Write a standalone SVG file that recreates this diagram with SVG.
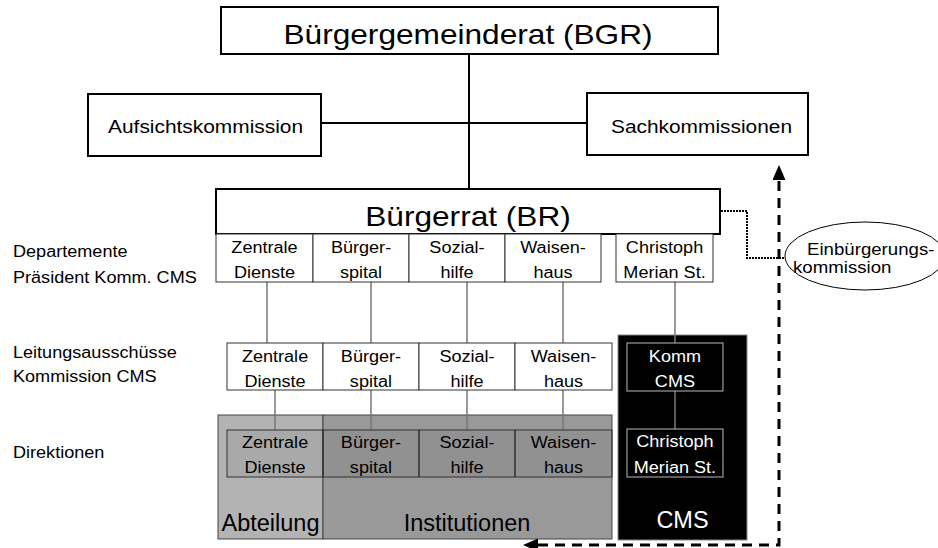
<svg xmlns="http://www.w3.org/2000/svg" width="938" height="548" viewBox="0 0 938 548">
<style>
text { font-family: "Liberation Sans", Arial, sans-serif; fill: #000; }
.big { font-size: 28px; text-anchor: middle; }
.mid { font-size: 18.5px; text-anchor: middle; }
.cell { font-size: 16px; text-anchor: middle; }
.lbl { font-size: 16px; text-anchor: start; }
.area { font-size: 23.5px; text-anchor: middle; }
.w { fill: #fff; }
.box { fill: #fff; stroke: #000; stroke-width: 2; }
.thin { fill: #fff; stroke: #333; stroke-width: 1; }
.gcell { fill: #000; fill-opacity: 0.05; stroke: #333; stroke-width: 1; }
.wcell { fill: none; stroke: #bbb; stroke-width: 1; }
.con { stroke: #000; stroke-width: 2; fill: none; }
.gcon { stroke: #777; stroke-width: 1.5; fill: none; }
</style>
<defs>
<marker id="ah" viewBox="0 0 15 13" markerWidth="15" markerHeight="13" refX="0" refY="6.5" orient="auto-start-reverse" markerUnits="userSpaceOnUse">
<path d="M0,0 L15,6.5 L0,13 z" fill="#000"/>
</marker>
</defs>

<g id="bg-areas">
<rect x="218" y="415" width="105" height="124" fill="#b3b3b3" stroke="#444" stroke-width="1"/>
<rect x="323" y="415" width="289" height="124" fill="#999" stroke="#444" stroke-width="1"/>
<rect x="618" y="335" width="129" height="205" fill="#000" stroke="#888" stroke-width="1"/>
</g>

<g id="connectors">
<line class="con" x1="469" y1="54" x2="469" y2="189"/>
<line class="con" x1="321" y1="123" x2="587" y2="123"/>
<line class="gcon" x1="267" y1="282" x2="267" y2="343"/>
<line class="gcon" x1="371" y1="282" x2="371" y2="343"/>
<line class="gcon" x1="467" y1="282" x2="467" y2="343"/>
<line class="gcon" x1="563" y1="282" x2="563" y2="343"/>
<line class="gcon" x1="675" y1="282" x2="675" y2="343"/>
<line class="gcon" x1="275" y1="390" x2="275" y2="430"/>
<line class="gcon" x1="371" y1="390" x2="371" y2="430"/>
<line class="gcon" x1="467" y1="390" x2="467" y2="430"/>
<line class="gcon" x1="563" y1="390" x2="563" y2="430"/>
<line class="gcon" x1="675" y1="391" x2="675" y2="429"/>
<path d="M721,211 H747 V258 H785" fill="none" stroke="#000" stroke-width="2" stroke-dasharray="2 1"/>
<path d="M538,545 H779 V180" fill="none" stroke="#000" stroke-width="3" stroke-dasharray="10 7" marker-start="url(#ah)" marker-end="url(#ah)"/>
</g>

<g id="bgr">
<rect class="box" x="221" y="7" width="497" height="47"/>
<text class="big" x="414.2" y="44" transform="scale(1.13 1)">Bürgergemeinderat (BGR)</text>
</g>
<g id="aufsicht">
<rect class="box" x="88" y="94" width="233" height="62"/>
<text class="mid" x="181.9" y="133" transform="scale(1.13 1)">Aufsichtskommission</text>
</g>
<g id="sach">
<rect class="box" x="587" y="93" width="221" height="62"/>
<text class="mid" x="620.8" y="133" transform="scale(1.13 1)">Sachkommissionen</text>
</g>
<g id="br">
<rect class="box" x="216" y="189" width="504" height="45"/>
<text class="big" x="414.2" y="226" transform="scale(1.13 1)">Bürgerrat (BR)</text>
</g>

<g id="dep-zd">
<rect class="thin" x="216" y="234" width="97" height="48"/>
<text class="cell" x="234.1" y="252.7" transform="scale(1.13 1)">Zentrale</text>
<text class="cell" x="234.1" y="278.3" transform="scale(1.13 1)">Dienste</text>
</g>
<g id="dep-bs">
<rect class="thin" x="313" y="234" width="96" height="48"/>
<text class="cell" x="319.5" y="252.7" transform="scale(1.13 1)">Bürger-</text>
<text class="cell" x="319.5" y="278.3" transform="scale(1.13 1)">spital</text>
</g>
<g id="dep-sh">
<rect class="thin" x="409" y="234" width="96" height="48"/>
<text class="cell" x="404.4" y="252.7" transform="scale(1.13 1)">Sozial-</text>
<text class="cell" x="404.4" y="278.3" transform="scale(1.13 1)">hilfe</text>
</g>
<g id="dep-wh">
<rect class="thin" x="505" y="234" width="96" height="48"/>
<text class="cell" x="489.4" y="252.7" transform="scale(1.13 1)">Waisen-</text>
<text class="cell" x="489.4" y="278.3" transform="scale(1.13 1)">haus</text>
</g>
<g id="dep-cms">
<rect class="thin" x="616" y="234" width="97" height="48"/>
<text class="cell" x="588.1" y="252.7" transform="scale(1.13 1)">Christoph</text>
<text class="cell" x="588.1" y="278.3" transform="scale(1.13 1)">Merian St.</text>
</g>

<g id="la-zd">
<rect class="thin" x="227" y="343" width="96" height="47"/>
<text class="cell" x="243.4" y="362" transform="scale(1.13 1)">Zentrale</text>
<text class="cell" x="243.4" y="387" transform="scale(1.13 1)">Dienste</text>
</g>
<g id="la-bs">
<rect class="thin" x="323" y="343" width="96" height="47"/>
<text class="cell" x="328.3" y="362" transform="scale(1.13 1)">Bürger-</text>
<text class="cell" x="328.3" y="387" transform="scale(1.13 1)">spital</text>
</g>
<g id="la-sh">
<rect class="thin" x="419" y="343" width="96" height="47"/>
<text class="cell" x="413.3" y="362" transform="scale(1.13 1)">Sozial-</text>
<text class="cell" x="413.3" y="387" transform="scale(1.13 1)">hilfe</text>
</g>
<g id="la-wh">
<rect class="thin" x="515" y="343" width="97" height="47"/>
<text class="cell" x="498.7" y="362" transform="scale(1.13 1)">Waisen-</text>
<text class="cell" x="498.7" y="387" transform="scale(1.13 1)">haus</text>
</g>
<g id="komm-cms">
<rect class="wcell" x="627" y="343" width="96" height="48"/>
<text class="cell w" x="597.3" y="362" transform="scale(1.13 1)">Komm</text>
<text class="cell w" x="597.3" y="387" transform="scale(1.13 1)">CMS</text>
</g>

<g id="di-zd">
<rect class="gcell" x="227" y="430" width="96" height="47"/>
<text class="cell" x="243.4" y="448.5" transform="scale(1.13 1)">Zentrale</text>
<text class="cell" x="243.4" y="473.5" transform="scale(1.13 1)">Dienste</text>
</g>
<g id="di-bs">
<rect class="gcell" x="323" y="430" width="96" height="47"/>
<text class="cell" x="328.3" y="448.5" transform="scale(1.13 1)">Bürger-</text>
<text class="cell" x="328.3" y="473.5" transform="scale(1.13 1)">spital</text>
</g>
<g id="di-sh">
<rect class="gcell" x="419" y="430" width="96" height="47"/>
<text class="cell" x="413.3" y="448.5" transform="scale(1.13 1)">Sozial-</text>
<text class="cell" x="413.3" y="473.5" transform="scale(1.13 1)">hilfe</text>
</g>
<g id="di-wh">
<rect class="gcell" x="515" y="430" width="97" height="47"/>
<text class="cell" x="498.7" y="448.5" transform="scale(1.13 1)">Waisen-</text>
<text class="cell" x="498.7" y="473.5" transform="scale(1.13 1)">haus</text>
</g>
<g id="di-cms">
<rect class="wcell" x="627" y="429" width="96" height="48"/>
<text class="cell w" x="597.3" y="447.5" transform="scale(1.13 1)">Christoph</text>
<text class="cell w" x="597.3" y="473" transform="scale(1.13 1)">Merian St.</text>
</g>

<g id="area-labels">
<text class="area" x="270.5" y="531">Abteilung</text>
<text class="area" x="467" y="531">Institutionen</text>
<text class="area w" x="682.5" y="528">CMS</text>
</g>

<g id="einb">
<ellipse cx="865" cy="256" rx="80" ry="34" fill="#fff" stroke="#000" stroke-width="1"/>
<text class="lbl" style="font-size:16.5px" x="714.2" y="255" transform="scale(1.13 1)">Einbürgerungs-</text>
<text class="lbl" style="font-size:16.5px" x="701.8" y="273" transform="scale(1.13 1)">kommission</text>
</g>

<g id="row-labels">
<text class="lbl" x="11.5" y="257" transform="scale(1.13 1)">Departemente</text>
<text class="lbl" x="11.5" y="283" transform="scale(1.13 1)">Präsident Komm. CMS</text>
<text class="lbl" x="11.5" y="358" transform="scale(1.13 1)">Leitungsausschüsse</text>
<text class="lbl" x="11.5" y="382" transform="scale(1.13 1)">Kommission CMS</text>
<text class="lbl" x="11.5" y="458" transform="scale(1.13 1)">Direktionen</text>
</g>
</svg>
